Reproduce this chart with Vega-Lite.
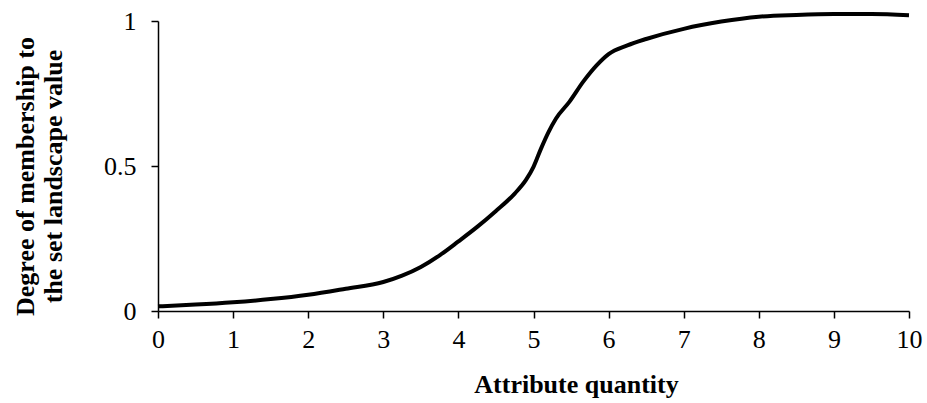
{
  "$schema": "https://vega.github.io/schema/vega-lite/v6.json",
  "width": 751,
  "height": 290,
  "autosize": "none",
  "padding": {"left": 158, "top": 21, "right": 18, "bottom": 92},
  "background": "white",
  "config": {
    "view": {"stroke": null},
    "font": "Liberation Serif",
    "axis": {
      "grid": false,
      "domainColor": "black",
      "domainWidth": 1.5,
      "tickColor": "black",
      "tickWidth": 1.5,
      "tickSize": 7,
      "labelColor": "black",
      "labelFont": "Liberation Serif",
      "labelFontSize": 26,
      "titleFont": "Liberation Serif",
      "titleFontSize": 26,
      "titleFontWeight": "bold",
      "titleColor": "black"
    }
  },
  "data": {
    "values": [
      {"x": 0, "y": 0.016},
      {"x": 0.5, "y": 0.022},
      {"x": 1, "y": 0.03},
      {"x": 1.5, "y": 0.041},
      {"x": 2, "y": 0.056},
      {"x": 2.5, "y": 0.077},
      {"x": 3, "y": 0.1},
      {"x": 3.25, "y": 0.122},
      {"x": 3.5, "y": 0.152},
      {"x": 3.75, "y": 0.192},
      {"x": 4, "y": 0.24},
      {"x": 4.25, "y": 0.29},
      {"x": 4.5, "y": 0.345},
      {"x": 4.75, "y": 0.405},
      {"x": 4.9, "y": 0.452},
      {"x": 5, "y": 0.497},
      {"x": 5.1, "y": 0.56},
      {"x": 5.2, "y": 0.617},
      {"x": 5.3, "y": 0.664},
      {"x": 5.48, "y": 0.722},
      {"x": 5.66, "y": 0.79},
      {"x": 5.84, "y": 0.847},
      {"x": 6, "y": 0.886},
      {"x": 6.25, "y": 0.916},
      {"x": 6.5, "y": 0.938},
      {"x": 7, "y": 0.973},
      {"x": 7.5, "y": 0.998},
      {"x": 8, "y": 1.015},
      {"x": 8.5, "y": 1.021},
      {"x": 9, "y": 1.024},
      {"x": 9.5, "y": 1.024},
      {"x": 10, "y": 1.02}
    ]
  },
  "mark": {"type": "line", "color": "black", "strokeWidth": 4, "interpolate": "monotone", "clip": false},
  "encoding": {
    "x": {
      "field": "x",
      "type": "quantitative",
      "scale": {"domain": [0, 10], "nice": false},
      "axis": {"values": [0,1,2,3,4,5,6,7,8,9,10], "title": "Attribute quantity", "labelPadding": 8, "titlePadding": 19, "titleX": 418, "labelFlush": false}
    },
    "y": {
      "field": "y",
      "type": "quantitative",
      "scale": {"domain": [0, 1], "nice": false},
      "axis": {"values": [0, 0.5, 1], "format": "~g", "title": ["Degree of membership to", "the set landscape value"], "labelPadding": 15, "titlePadding": 37, "titleY": 155, "titleLineHeight": 28, "labelFlush": false}
    }
  }
}
